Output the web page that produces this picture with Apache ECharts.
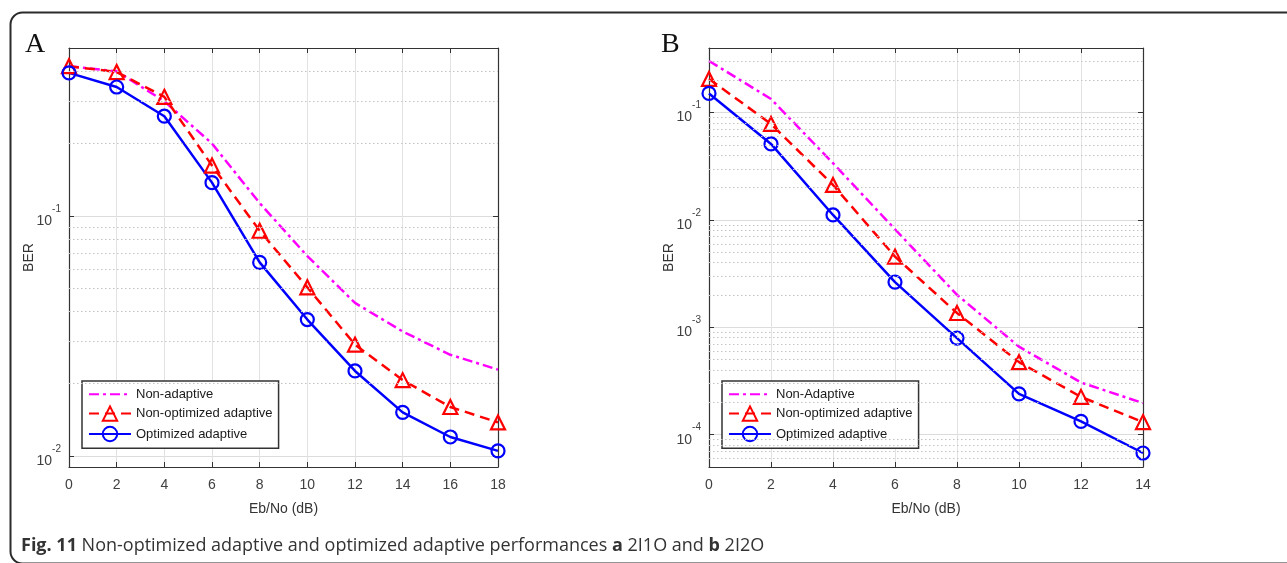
<!DOCTYPE html>
<html><head><meta charset="utf-8">
<script src="https://cdn.jsdelivr.net/npm/echarts@6/dist/echarts.min.js"></script>
<style>html,body{margin:0;padding:0;background:#fff}#c{width:1287px;height:563px}</style>
</head><body><div id="c"></div>
<script>
// ---- data (panel A: 2I1O) ----
const snrA = [0, 2, 4, 6, 8, 10, 12, 14, 16, 18];
const nonAdaptiveA = [0.42, 0.40, 0.30, 0.20, 0.113, 0.068, 0.0434, 0.033, 0.0264, 0.0229];
const nonOptimizedA = [0.42, 0.397, 0.313, 0.162, 0.0867, 0.0504, 0.0291, 0.0207, 0.0160, 0.0138];
const optimizedA = [0.394, 0.344, 0.260, 0.1375, 0.064, 0.037, 0.0226, 0.0152, 0.0120, 0.0105];
const yRangeA = [0.009, 0.5];
const minorGridA = [0.02, 0.03, 0.04, 0.05, 0.06, 0.07, 0.08, 0.09, 0.2, 0.3, 0.4];
const legendA = ['Non-adaptive', 'Non-optimized adaptive', 'Optimized adaptive'];

// ---- data (panel B: 2I2O) ----
const snrB = [0, 2, 4, 6, 8, 10, 12, 14];
const nonAdaptiveB = [0.303, 0.134, 0.0338, 0.0082, 0.00201, 0.00066, 0.000306, 0.000197];
const nonOptimizedB = [0.206, 0.0785, 0.0212, 0.00456, 0.00136, 0.000474, 0.000225, 0.000131];
const optimizedB = [0.151, 0.0511, 0.01114, 0.00264, 0.000794, 0.00024, 0.000133, 0.0000675];
const yRangeB = [0.00005, 0.4];
const minorGridB = [0.00006, 0.00007, 0.00008, 0.00009,
  0.0002, 0.0003, 0.0004, 0.0005, 0.0006, 0.0007, 0.0008, 0.0009,
  0.002, 0.003, 0.004, 0.005, 0.006, 0.007, 0.008, 0.009,
  0.02, 0.03, 0.04, 0.05, 0.06, 0.07, 0.08, 0.09, 0.2, 0.3];
const legendB = ['Non-Adaptive', 'Non-optimized adaptive', 'Optimized adaptive'];

const xTickStep = 2;
const xAxisName = 'Eb/No (dB)';
const yAxisName = 'BER';
const panelLabels = ['A', 'B'];
const captionBold = 'Fig. 11';
const captionText = ' Non-optimized adaptive and optimized adaptive performances ';

const FONT = "Liberation Sans";
const pairs = (xs, ys) => xs.map((x, i) => [x, ys[i]]);

const grids = [
  {left: 69, right: 789, top: 48, bottom: 96},
  {left: 709, right: 144, top: 48, bottom: 96}
];

function xAxes(gi, max) {
  return [{
    type: 'value', gridIndex: gi, min: 0, max: max, interval: xTickStep,
    axisLine: {show: true, onZero: false, lineStyle: {color: '#333', width: 1.2}},
    axisTick: {inside: true, length: 5, lineStyle: {color: '#333'}},
    axisLabel: {color: '#404040', fontSize: 14, fontFamily: FONT, margin: 11},
    splitLine: {show: true, lineStyle: {color: '#e2e2e2', width: 1}},
    name: xAxisName, nameLocation: 'middle', nameGap: 35, nameMoveOverlap: false,
    nameTextStyle: {color: '#333', fontSize: 14, fontFamily: FONT}
  }, {
    type: 'value', gridIndex: gi, min: 0, max: max, interval: xTickStep, position: 'top',
    axisLine: {show: true, onZero: false, lineStyle: {color: '#333', width: 1.2}},
    axisTick: {inside: true, length: 5, lineStyle: {color: '#333'}},
    axisLabel: {show: false}, splitLine: {show: false}
  }];
}

function yAxes(gi, range) {
  return [{
    type: 'log', logBase: 10, gridIndex: gi, min: range[0], max: range[1],
    axisLine: {show: true, onZero: false, lineStyle: {color: '#333', width: 1.2}},
    axisTick: {inside: true, length: 5, lineStyle: {color: '#333'}},
    axisLabel: {
      showMinLabel: false, showMaxLabel: false, margin: 8,
      formatter: v => '{b|10}{e|' + Math.round(Math.log10(v)) + '}',
      rich: {
        b: {fontSize: 14, fontFamily: FONT, color: '#404040', lineHeight: 24, verticalAlign: 'bottom'},
        e: {fontSize: 10, fontFamily: FONT, color: '#404040', lineHeight: 12, verticalAlign: 'top'}
      }
    },
    splitLine: {show: true, lineStyle: {color: '#dcdcdc', width: 1.2}},
    name: yAxisName, nameLocation: 'middle', nameGap: 33, nameMoveOverlap: false,
    nameTextStyle: {color: '#333', fontSize: 14, fontFamily: FONT}
  }, {
    type: 'log', logBase: 10, gridIndex: gi, min: range[0], max: range[1], position: 'right',
    axisLine: {show: true, onZero: false, lineStyle: {color: '#333', width: 1.2}},
    axisTick: {inside: true, length: 5, lineStyle: {color: '#333'}},
    axisLabel: {show: false}, splitLine: {show: false}
  }];
}

function minorSeries(ai, vals) {
  return {
    type: 'line', name: '_minor' + ai, xAxisIndex: ai * 2, yAxisIndex: ai * 2, data: [],
    z: 1, silent: true,
    markLine: {
      silent: true, symbol: ['none', 'none'], label: {show: false}, animation: false,
      precision: 12,
      lineStyle: {color: '#c4c4c4', width: 1, type: [1.5, 2.5]},
      emphasis: {disabled: true},
      data: vals.map(v => ({yAxis: v}))
    }
  };
}

function curves(ai, xs, na, no, op, naName) {
  const base = {type: 'line', xAxisIndex: ai * 2, yAxisIndex: ai * 2, z: 3, silent: true, animation: false};
  return [
    Object.assign({}, base, {
      name: naName, data: pairs(xs, na), symbol: 'none',
      lineStyle: {color: '#ff00ff', width: 2.5, type: [10, 4, 3, 4]}, itemStyle: {color: '#ff00ff'}
    }),
    Object.assign({}, base, {
      name: 'Non-optimized adaptive', data: pairs(xs, no), symbol: 'triangle', symbolSize: 14,
      lineStyle: {color: '#ff0000', width: 2.5, type: [10, 6]},
      itemStyle: {color: 'rgba(255,255,255,0)', borderColor: '#ff0000', borderWidth: 2.2}
    }),
    Object.assign({}, base, {
      name: 'Optimized adaptive', data: pairs(xs, op), symbol: 'circle', symbolSize: 13,
      lineStyle: {color: '#0000ff', width: 2.5},
      itemStyle: {color: 'rgba(255,255,255,0)', borderColor: '#0000ff', borderWidth: 2.2}
    })
  ];
}

function legend(left, names) {
  return {
    orient: 'vertical', left: left, top: 381,
    data: [{name: names[0], itemStyle: {opacity: 0}}, {name: names[1]}, {name: names[2]}],
    backgroundColor: '#fff', borderColor: '#333', borderWidth: 1.5, borderRadius: 0,
    padding: [6, 6, 6, 6], itemWidth: 42, itemHeight: 18, itemGap: 4,
    selectedMode: false,
    textStyle: {color: '#1a1a1a', fontSize: 13, fontFamily: FONT}
  };
}

const option = {
  animation: false,
  backgroundColor: '#fff',
  grid: grids,
  xAxis: xAxes(0, snrA[snrA.length - 1]).concat(xAxes(1, snrB[snrB.length - 1])),
  yAxis: yAxes(0, yRangeA).concat(yAxes(1, yRangeB)),
  legend: [legend(82, legendA), legend(722, legendB)],
  series: [minorSeries(0, minorGridA), minorSeries(1, minorGridB)]
    .concat(curves(0, snrA, nonAdaptiveA, nonOptimizedA, optimizedA, legendA[0]))
    .concat(curves(1, snrB, nonAdaptiveB, nonOptimizedB, optimizedB, legendB[0])),
  graphic: [
    {type: 'rect', left: 8, top: 10, shape: {width: 1320, height: 551, r: 12},
      style: {fill: 'none', stroke: '#2b2b2b', lineWidth: 2}, silent: true},
    {type: 'text', left: 25, top: 31, style: {text: panelLabels[0], font: "28px 'Liberation Serif'", fill: '#111'}},
    {type: 'text', left: 661, top: 31, style: {text: panelLabels[1], font: "28px 'Liberation Serif'", fill: '#111'}},
    {type: 'text', left: 21, top: 537, style: {
      text: '{b|' + captionBold + '}' + captionText + '{b|a} 2I1O and {b|b} 2I2O',
      font: "18px 'Open Sans'", fill: '#333',
      rich: {b: {fontWeight: 'bold', fontSize: 18, fontFamily: 'Open Sans', fill: '#333'}}
    }}
  ]
};

const chart = echarts.init(document.getElementById('c'), null, {renderer: 'canvas'});
chart.setOption(option);
</script>
</body></html>
